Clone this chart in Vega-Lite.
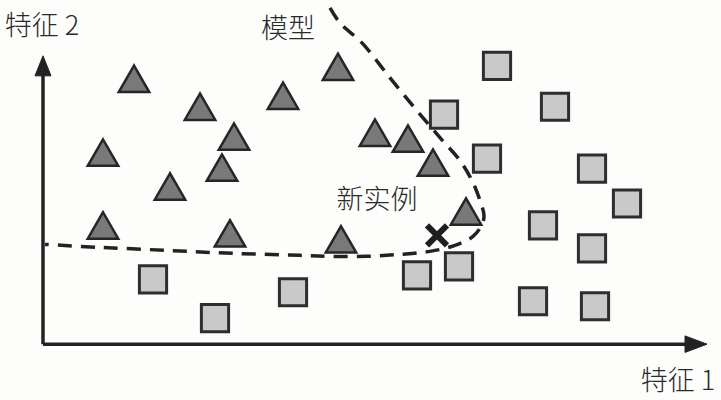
{
  "$schema": "https://vega.github.io/schema/vega-lite/v6.json",
  "width": 721,
  "height": 400,
  "autosize": {"type": "fit", "contains": "padding"},
  "padding": 0,
  "background": "#fdfdfb",
  "config": {"view": {"stroke": null}},
  "datasets": {
    "triangles": [
      {"f1": 134, "f2": 322}, {"f1": 200, "f2": 294}, {"f1": 283, "f2": 305}, {"f1": 338, "f2": 334},
      {"f1": 234, "f2": 264}, {"f1": 103, "f2": 248}, {"f1": 222, "f2": 233}, {"f1": 170, "f2": 214},
      {"f1": 103, "f2": 175}, {"f1": 230, "f2": 167}, {"f1": 341, "f2": 161}, {"f1": 375, "f2": 268},
      {"f1": 408, "f2": 262}, {"f1": 433, "f2": 238}, {"f1": 466, "f2": 189}
    ],
    "squares": [
      {"f1": 497, "f2": 335}, {"f1": 555, "f2": 294}, {"f1": 444, "f2": 286}, {"f1": 487, "f2": 242},
      {"f1": 592, "f2": 232}, {"f1": 627, "f2": 197}, {"f1": 543, "f2": 175}, {"f1": 592, "f2": 152},
      {"f1": 417, "f2": 125}, {"f1": 459, "f2": 134}, {"f1": 533, "f2": 99}, {"f1": 595, "f2": 94},
      {"f1": 153, "f2": 121}, {"f1": 215, "f2": 82}, {"f1": 293, "f2": 108}
    ],
    "model": [
      {"i": 1, "f1": 330, "f2": 393}, {"i": 2, "f1": 340, "f2": 378}, {"i": 3, "f1": 362, "f2": 358},
      {"i": 4, "f1": 390, "f2": 323}, {"i": 5, "f1": 417, "f2": 290}, {"i": 6, "f1": 440, "f2": 263},
      {"i": 7, "f1": 460, "f2": 240}, {"i": 8, "f1": 472, "f2": 220}, {"i": 9, "f1": 480, "f2": 200},
      {"i": 10, "f1": 484, "f2": 185}, {"i": 11, "f1": 482, "f2": 176}, {"i": 12, "f1": 473, "f2": 164},
      {"i": 13, "f1": 455, "f2": 155}, {"i": 14, "f1": 430, "f2": 149}, {"i": 15, "f1": 400, "f2": 146},
      {"i": 16, "f1": 367, "f2": 144}, {"i": 17, "f1": 330, "f2": 144}, {"i": 18, "f1": 300, "f2": 145},
      {"i": 19, "f1": 233, "f2": 147}, {"i": 20, "f1": 167, "f2": 150}, {"i": 21, "f1": 100, "f2": 153},
      {"i": 22, "f1": 45, "f2": 156}
    ],
    "axes": [
      {"f1": 43, "f2": 56, "f1e": 43, "f2e": 332},
      {"f1": 43, "f2": 56, "f1e": 688, "f2e": 56}
    ],
    "labels": [
      {"f1": 42, "f2": 374, "text": "特征 2"},
      {"f1": 288, "f2": 371, "text": "模型"},
      {"f1": 377, "f2": 200, "text": "新实例"},
      {"f1": 678, "f2": 18, "text": "特征 1"}
    ]
  },
  "encoding": {
    "x": {"field": "f1", "type": "quantitative", "scale": {"domain": [0, 721], "nice": false, "zero": false}, "axis": null},
    "y": {"field": "f2", "type": "quantitative", "scale": {"domain": [0, 400], "nice": false, "zero": false}, "axis": null}
  },
  "layer": [
    {
      "data": {"name": "axes"},
      "mark": {"type": "rule", "stroke": "#222222", "strokeWidth": 3.5},
      "encoding": {"x2": {"field": "f1e"}, "y2": {"field": "f2e"}}
    },
    {
      "data": {"values": [{"f1": 43, "f2": 335}]},
      "mark": {"type": "point", "shape": "M0,-1L0.8,1L-0.8,1Z", "size": 400, "filled": true, "fill": "#222222", "stroke": "#222222", "strokeWidth": 1, "opacity": 1}
    },
    {
      "data": {"values": [{"f1": 696, "f2": 56}]},
      "mark": {"type": "point", "shape": "M1,0L-1,0.75L-1,-0.75Z", "size": 484, "filled": true, "fill": "#222222", "stroke": "#222222", "strokeWidth": 1, "opacity": 1}
    },
    {
      "data": {"name": "model"},
      "mark": {"type": "line", "stroke": "#222222", "strokeWidth": 3.5, "strokeDash": [14, 9], "interpolate": "catmull-rom"},
      "encoding": {"order": {"field": "i", "type": "quantitative"}}
    },
    {
      "data": {"name": "triangles"},
      "mark": {"type": "point", "shape": "triangle-up", "size": 930, "filled": true, "fill": "#797979", "stroke": "#262626", "strokeWidth": 2.5, "opacity": 1}
    },
    {
      "data": {"name": "squares"},
      "mark": {"type": "point", "shape": "square", "size": 740, "filled": true, "fill": "#c9c9c9", "stroke": "#2e2e2e", "strokeWidth": 3, "opacity": 1}
    },
    {
      "data": {"values": [{"f1": 437, "f2": 165}]},
      "mark": {"type": "point", "shape": "M-1,-1L1,1M1,-1L-1,1", "size": 400, "filled": false, "stroke": "#1e1e1e", "strokeWidth": 6, "opacity": 1}
    },
    {
      "data": {"name": "labels"},
      "mark": {"type": "text", "font": "Noto Sans CJK SC", "fontSize": 27, "fontWeight": 300, "color": "#2a2a2a", "align": "center", "baseline": "middle"},
      "encoding": {"text": {"field": "text", "type": "nominal"}}
    }
  ]
}
